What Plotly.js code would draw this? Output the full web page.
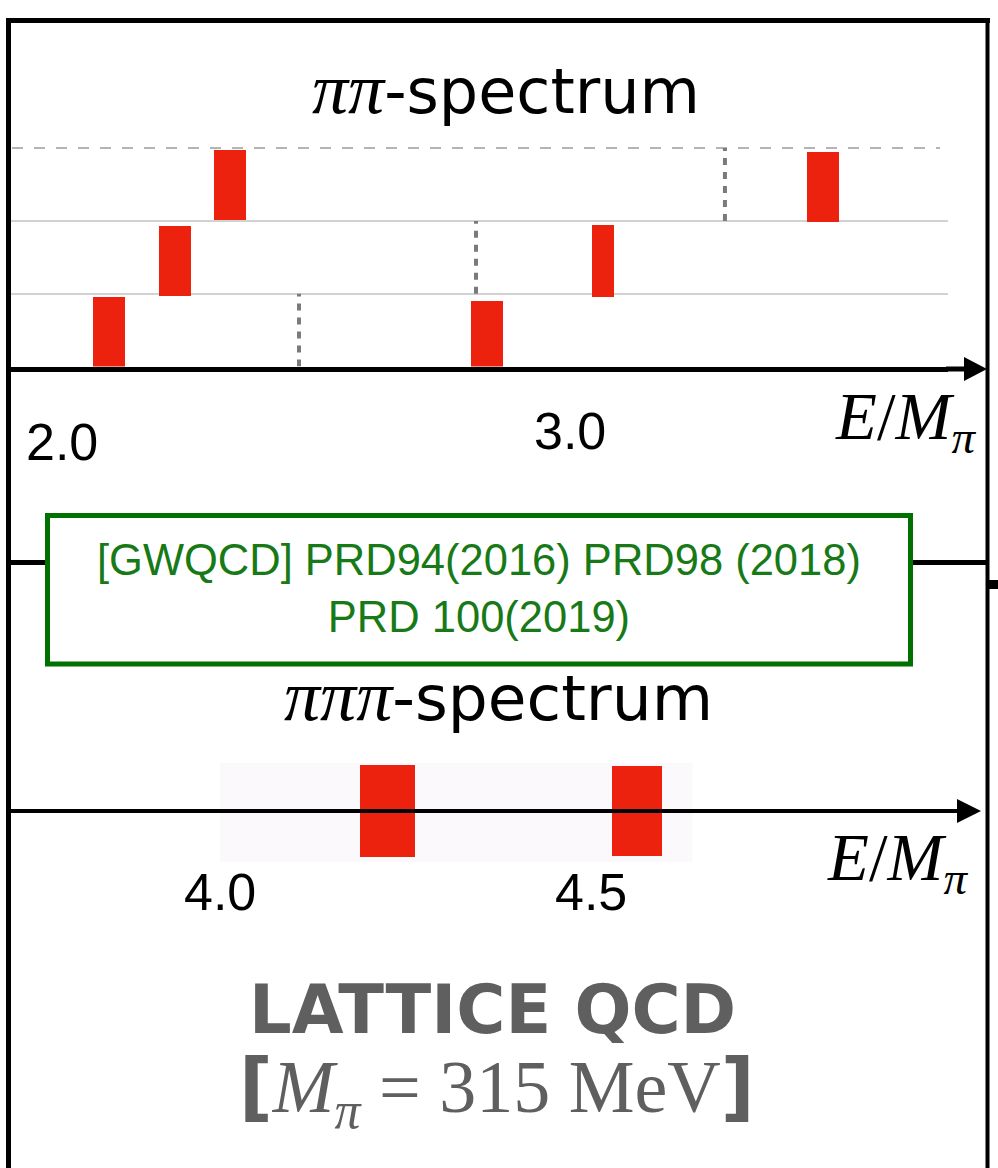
<!DOCTYPE html>
<html>
<head>
<meta charset="utf-8">
<script src="https://cdn.plot.ly/plotly-3.0.1.min.js"></script>
<style>html,body{margin:0;padding:0;background:#fff;}#chart{width:998px;height:1168px;}</style>
</head>
<body>
<div id="chart"></div>
<script>
// ---------- data ----------
// two-pion spectrum: level energies E/M_pi, band extent per volume row
const ppEnergy = [2.0925, 2.2224, 2.3307, 2.8366, 3.065, 3.498];
const ppWidth  = [0.063, 0.063, 0.063, 0.063, 0.043, 0.062];
const ppLow    = [0.00, 0.97, 2.01, 0.00, 0.955, 1.985];
const ppHigh   = [0.955, 1.93, 2.97, 0.90, 1.945, 2.945];
// non-interacting thresholds (dotted)
const ppThreshE    = [2.4665, 2.815, 3.305];
const ppThreshLow  = [0, 1, 2];
const ppThreshHigh = [1, 2, 3];
const ppTickVals = [2.0, 3.0];
const ppTickText = ["2.0", "3.0"];

// three-pion spectrum
const pppEnergy = [4.2257, 4.562];
const pppWidth  = [0.074, 0.0674];
const pppLow    = [-0.9, -0.88];
const pppHigh   = [0.96, 0.93];
const pppTickVals = [4.0, 4.5];
const pppTickText = ["4.0", "4.5"];
const pppBandRange = [4.0, 4.637];

// ---------- helpers ----------
const W = 998, H = 1168;
const fx = x => x / W;
const fy = y => 1 - y / H;
const E1 = px => 2 + (px - 62) / 508;
const E2 = px => 4 + (px - 220) / 742;
const RED = '#ed220e';

// ---------- traces ----------
const traces = [];
traces.push({
  type: 'bar', xaxis: 'x', yaxis: 'y',
  x: ppEnergy, base: ppLow, y: ppHigh.map((h, i) => h - ppLow[i]), width: ppWidth,
  marker: {color: RED, line: {width: 0}}, hoverinfo: 'skip'
});
const tx = [], ty = [];
ppThreshE.forEach((e, i) => { tx.push(e, e, null); ty.push(ppThreshLow[i], ppThreshHigh[i], null); });
traces.push({
  type: 'scatter', mode: 'lines', xaxis: 'x', yaxis: 'y', x: tx, y: ty,
  line: {color: '#7a7a7a', width: 4, dash: '7px,7px'}, hoverinfo: 'skip'
});
traces.push({
  type: 'bar', xaxis: 'x2', yaxis: 'y2',
  x: pppEnergy, base: pppLow, y: pppHigh.map((h, i) => h - pppLow[i]), width: pppWidth,
  marker: {color: RED, line: {width: 0}}, hoverinfo: 'skip'
});

// ---------- layout ----------
const yTop = 366.5, rowPx = 72.8;
const serif = 'Liberation Serif';
const annFont = (size, color, family) => ({size: size, color: color || '#000', family: family || 'Liberation Sans'});

const annotations = [];
ppTickVals.forEach((v, i) => annotations.push({
  xref: 'x', yref: 'paper', x: v, y: fy(i === 0 ? 442 : 431), text: ppTickText[i],
  showarrow: false, xanchor: 'center', yanchor: 'middle', font: annFont(52)
}));
pppTickVals.forEach((v, i) => annotations.push({
  xref: 'x2', yref: 'paper', x: v, y: fy(892), text: pppTickText[i],
  showarrow: false, xanchor: 'center', yanchor: 'middle', font: annFont(52)
}));
const emLabel = '<i>E</i><span style="font-family:Liberation Serif">/</span><i>M</i><sub><i>π</i></sub>';
annotations.push({xref: 'paper', yref: 'paper', x: fx(978), y: fy(421), xanchor: 'right', yanchor: 'middle',
  text: emLabel, showarrow: false, font: annFont(67, '#000', serif)});
annotations.push({xref: 'paper', yref: 'paper', x: fx(970), y: fy(862), xanchor: 'right', yanchor: 'middle',
  text: emLabel, showarrow: false, font: annFont(67, '#000', serif)});
const piSpan = s => '<span style="font-family:Liberation Serif;font-size:72px"><i>' + s + '</i></span>';
annotations.push({xref: 'paper', yref: 'paper', x: fx(506), y: fy(89), xanchor: 'center', yanchor: 'middle',
  text: piSpan('ππ') + '-spectrum', showarrow: false,
  font: annFont(62, '#000', 'DejaVu Sans')});
annotations.push({xref: 'paper', yref: 'paper', x: fx(498), y: fy(696), xanchor: 'center', yanchor: 'middle',
  text: piSpan('πππ') + '-spectrum', showarrow: false,
  font: annFont(63, '#000', 'DejaVu Sans')});
annotations.push({xref: 'paper', yref: 'paper', x: fx(479), y: fy(588), xanchor: 'center', yanchor: 'middle',
  text: '[GWQCD] PRD94(2016) PRD98 (2018)<br>PRD 100(2019)', showarrow: false, align: 'center',
  font: annFont(43.5, '#177a17')});
annotations.push({xref: 'paper', yref: 'paper', x: fx(492), y: fy(1010), xanchor: 'center', yanchor: 'middle',
  text: '<b>LATTICE QCD</b>', showarrow: false, font: annFont(67, '#5f5f5f', 'DejaVu Sans')});
annotations.push({xref: 'paper', yref: 'paper', x: fx(497), y: fy(1091), xanchor: 'center', yanchor: 'middle',
  text: '<span style="font-family:DejaVu Sans;font-weight:bold">[</span><i>M</i><sub><i>π</i></sub> = 315 MeV<span style="font-family:DejaVu Sans;font-weight:bold">]</span>',
  showarrow: false, font: annFont(74, '#5f5f5f', serif)});

const pline = (x0, y0, x1, y1, w, c) => ({type: 'line', xref: 'paper', yref: 'paper',
  x0: fx(x0), y0: fy(y0), x1: fx(x1), y1: fy(y1), line: {color: c || '#000', width: w}});
const ppath = (pts) => 'M ' + pts.map(p => fx(p[0]) + ' ' + fy(p[1])).join(' L ') + ' Z';

const shapes = [
  // outer frame
  pline(6, 20.5, 990, 20.5, 5),
  pline(8.5, 18, 8.5, 1168, 5),
  pline(987.5, 18, 987.5, 1168, 4),
  pline(8, 562.5, 47, 562.5, 5),
  pline(911, 562.5, 987, 562.5, 5),
  {type: 'rect', xref: 'paper', yref: 'paper', x0: fx(989), x1: fx(998), y0: fy(589), y1: fy(580),
   fillcolor: '#000', line: {width: 0}},
  // green reference box
  {type: 'rect', xref: 'paper', yref: 'paper', x0: fx(47.5), x1: fx(910.5), y0: fy(664), y1: fy(515.5),
   fillcolor: 'rgba(0,0,0,0)', line: {color: '#007000', width: 5}},
  // dashed upper row boundary
  {type: 'line', xref: 'paper', yref: 'y', x0: fx(12), x1: fx(940), y0: 3, y1: 3,
   line: {color: '#b4b4b4', width: 2, dash: '11px,11px'}, layer: 'below'},
  // pale band behind three-pion levels
  {type: 'rect', xref: 'x2', yref: 'y2', x0: pppBandRange[0], x1: pppBandRange[1], y0: -1, y1: 1,
   fillcolor: '#fcf9fd', line: {width: 0}, layer: 'below'},
  // arrow heads
  {type: 'path', xref: 'paper', yref: 'paper', path: ppath([[946, 366.5], [964, 366.5], [964, 357], [987, 369], [964, 381], [964, 371.5], [946, 371.5]]),
   fillcolor: '#000', line: {width: 0}},
  {type: 'path', xref: 'paper', yref: 'paper', path: ppath([[955, 809], [957, 809], [957, 799], [981, 811], [957, 823], [957, 813], [955, 813]]),
   fillcolor: '#000', line: {width: 0}}
];

const layout = {
  width: W, height: H, margin: {l: 0, r: 0, t: 0, b: 0},
  paper_bgcolor: '#fff', plot_bgcolor: 'rgba(0,0,0,0)', showlegend: false,
  barmode: 'overlay', bargap: 0,
  xaxis: {domain: [fx(8), fx(948)], range: [E1(8), E1(948)], anchor: 'y',
    showline: true, linewidth: 5, linecolor: '#000', showgrid: false, zeroline: false,
    showticklabels: false, ticks: '', fixedrange: true},
  yaxis: {domain: [fy(yTop), fy(yTop - 3.02 * rowPx)], range: [0, 3.02], anchor: 'x',
    tickmode: 'array', tickvals: [1, 2], showgrid: true, gridcolor: '#d2d2d2', gridwidth: 2,
    showticklabels: false, zeroline: false, showline: false, ticks: '', fixedrange: true},
  xaxis2: {domain: [fx(8), fx(957)], range: [E2(8), E2(957)], anchor: 'free', position: fy(811),
    showline: true, linewidth: 4, linecolor: '#000', showgrid: false, zeroline: false,
    showticklabels: false, ticks: '', fixedrange: true},
  yaxis2: {domain: [fy(862), fy(763)], range: [-1, 1], anchor: 'x2',
    showgrid: false, showticklabels: false, zeroline: false, showline: false, ticks: '', fixedrange: true},
  annotations: annotations,
  shapes: shapes
};

Plotly.newPlot('chart', traces, layout, {staticPlot: true, displayModeBar: false});
</script>
</body>
</html>
